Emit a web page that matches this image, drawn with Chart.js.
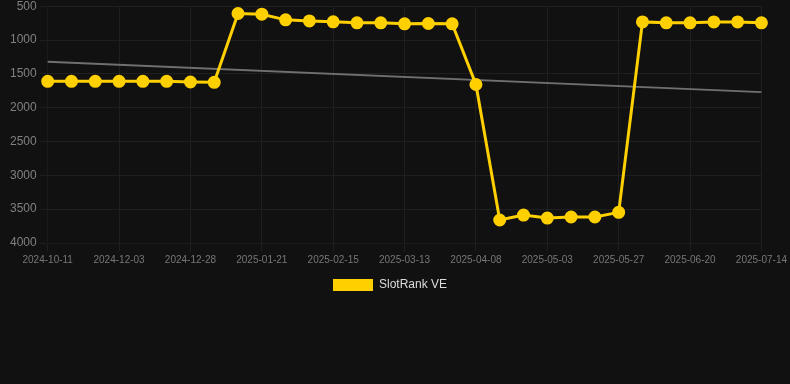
<!DOCTYPE html>
<html>
<head>
<meta charset="utf-8">
<script src="https://cdn.jsdelivr.net/npm/chart.js@4"></script>
<style>
    body { margin: 0; background: #111111; overflow: hidden; }
    .chart-box { width: 790px; height: 305px; margin-top: -4px; }
</style>
</head>
<body>
<div class="chart-box"><canvas id="rankChart"></canvas></div>
<script>
// даты (между подписями оси - примерные)
const dates = [
    '2024-10-11', '2024-10-29', '2024-11-16', '2024-12-03', '2024-12-11', '2024-12-20',
    '2024-12-28', '2025-01-05', '2025-01-13', '2025-01-21', '2025-01-29', '2025-02-06',
    '2025-02-15', '2025-02-23', '2025-03-05', '2025-03-13', '2025-03-22', '2025-03-31',
    '2025-04-08', '2025-04-16', '2025-04-25', '2025-05-03', '2025-05-11', '2025-05-19',
    '2025-05-27', '2025-06-04', '2025-06-12', '2025-06-20', '2025-06-28', '2025-07-06',
    '2025-07-14'
];

const rankValues = [
    1610, 1610, 1610, 1610, 1610, 1610, 1620, 1625,
    608, 618, 702, 717, 731, 746, 746, 761, 756, 760,
    1657, 3660, 3587, 3631, 3616, 3616, 3547,
    732, 746, 746, 732, 732, 746
];

// линия тренда: только крайние точки
const trendValues = [1320].concat(new Array(29).fill(null), [1770]);

const yTicks = [500, 1000, 1500, 2000, 2500, 3000, 3500, 4000];

const ctx = document.getElementById('rankChart');

new Chart(ctx, {
    type: 'line',
    data: {
        labels: dates,
        datasets: [
            {
                label: 'SlotRank VE',
                data: rankValues,
                borderColor: '#ffd000',
                backgroundColor: '#ffd000',
                borderWidth: 3,
                pointRadius: 5,
                pointHoverRadius: 5,
                tension: 0
            },
            {
                label: 'trend',
                data: trendValues,
                borderColor: '#707070',
                borderWidth: 2,
                pointRadius: 0,
                spanGaps: true
            }
        ]
    },
    options: {
        responsive: true,
        maintainAspectRatio: false,
        animation: false,
        layout: { padding: { left: 7, right: 17 } },
        plugins: {
            legend: {
                position: 'bottom',
                labels: {
                    color: '#dddddd',
                    boxWidth: 40,
                    boxHeight: 12,
                    font: { family: 'Arial, "Liberation Sans"', size: 12 },
                    generateLabels: chart => {
                        const items = Chart.defaults.plugins.legend.labels.generateLabels(chart);
                        items.forEach(item => { item.lineWidth = 0; });
                        return items;
                    },
                    filter: item => item.text !== 'trend'
                }
            },
            tooltip: { enabled: false }
        },
        scales: {
            x: {
                grid: { color: '#1f1f1f' },
                ticks: {
                    color: '#777777',
                    maxRotation: 0,
                    font: { family: 'Arial, "Liberation Sans"', size: 10 }
                }
            },
            y: {
                reverse: true,
                min: yTicks[0],
                max: yTicks[yTicks.length - 1],
                grid: { color: '#1f1f1f' },
                afterBuildTicks: axis => {
                    axis.ticks = yTicks.map(v => ({ value: v }));
                },
                ticks: {
                    color: '#808080',
                    font: { family: 'Arial, "Liberation Sans"', size: 12 },
                    callback: value => String(value)
                }
            }
        }
    }
});
</script>
</body>
</html>
